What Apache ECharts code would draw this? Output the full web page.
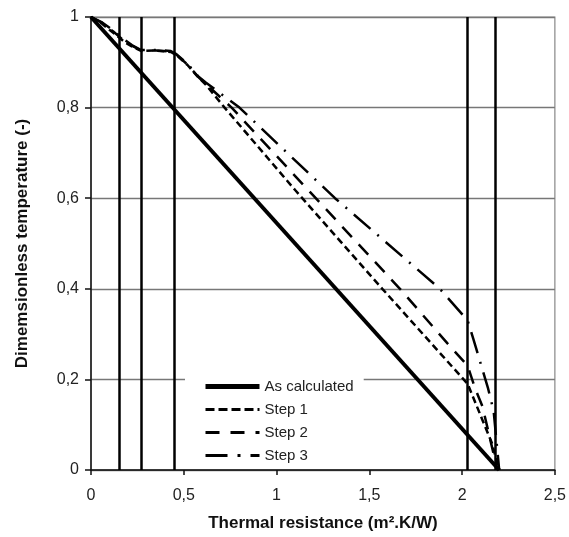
<!DOCTYPE html>
<html><head><meta charset="utf-8">
<script src="https://cdn.jsdelivr.net/npm/echarts@6/dist/echarts.min.js"></script>
<style>html,body{margin:0;padding:0;background:#fff}#c{width:569px;height:537px}</style>
</head><body><div id="c"></div>
<script>
const seriesNames = ['As calculated', 'Step 1', 'Step 2', 'Step 3'];
const asCalculated = [[0, 1], [2.2, 0]];
const step1 = [[0,1],[0.06,0.985],[0.12,0.965],[0.18,0.945],[0.22,0.935],[0.27,0.925],[0.35,0.926],[0.43,0.923],[0.46,0.916],[0.52,0.894],[0.58,0.866],[0.62,0.85],[0.72,0.8],[1.1,0.618],[1.57,0.4],[2.03,0.19],[2.06,0.16],[2.11,0.11],[2.16,0.06],[2.2,0]];
const step2 = [[0,1],[0.06,0.987],[0.12,0.968],[0.18,0.947],[0.22,0.937],[0.27,0.926],[0.35,0.926],[0.43,0.924],[0.46,0.917],[0.52,0.895],[0.58,0.867],[0.62,0.852],[0.758,0.8],[1.2,0.605],[1.665,0.4],[1.92,0.28],[2.03,0.23],[2.07,0.18],[2.11,0.14],[2.15,0.07],[2.19,0]];
const step3 = [[0,1],[0.06,0.988],[0.12,0.97],[0.18,0.95],[0.22,0.938],[0.27,0.927],[0.35,0.927],[0.43,0.925],[0.46,0.918],[0.52,0.897],[0.58,0.868],[0.62,0.855],[0.80,0.8],[1.315,0.6],[1.88,0.4],[2.03,0.33],[2.06,0.29],[2.1,0.235],[2.14,0.18],[2.17,0.13],[2.2,0]];
const layerBoundaries = [0.15, 0.27, 0.45, 2.03, 2.18];
const xTicks = [0, 0.5, 1, 1.5, 2, 2.5];
const yTicks = [0, 0.2, 0.4, 0.6, 0.8, 1];

const font = "'Liberation Sans', Arial, sans-serif";
const fmt = v => String(+v.toFixed(2)).replace('.', ',');
const lineStyles = [
  { color: '#000', width: 4, type: 'solid' },
  { color: '#000', width: 2.5, type: [7, 4] },
  { color: '#000', width: 2.5, type: [14, 10] },
  { color: '#000', width: 2.5, type: [22, 9, 2, 9] }
];
const legendLineStyles = [
  { color: '#000', width: 5, type: 'solid' },
  { color: '#000', width: 3, type: [9, 4] },
  { color: '#000', width: 3, type: [14, 11] },
  { color: '#000', width: 3, type: [22, 10, 3, 10] }
];
const chart = echarts.init(document.getElementById('c'));
chart.setOption({
  animation: false,
  backgroundColor: '#fff',
  color: ['#000', '#000', '#000', '#000'],
  grid: { left: 91, right: 14, top: 17, bottom: 67, show: true, borderColor: '#888', borderWidth: 1.2, backgroundColor: 'transparent' },
  xAxis: {
    type: 'value', min: xTicks[0], max: xTicks[xTicks.length - 1], interval: 0.5,
    axisLine: { lineStyle: { color: '#111', width: 1.5 } },
    axisTick: { show: true, length: 5, lineStyle: { color: '#111', width: 1.5 } },
    axisLabel: { formatter: fmt, fontFamily: font, fontSize: 16, color: '#222', margin: 18 },
    splitLine: { show: false },
    name: 'Thermal resistance (m².K/W)', nameLocation: 'middle', nameGap: 45,
    nameTextStyle: { fontFamily: font, fontSize: 17, fontWeight: 'bold', color: '#111' }
  },
  yAxis: {
    type: 'value', min: yTicks[0], max: yTicks[yTicks.length - 1], interval: 0.2,
    axisLine: { show: true, lineStyle: { color: '#111', width: 1.5 } },
    axisTick: { show: true, length: 6, lineStyle: { color: '#111', width: 1.5 } },
    axisLabel: { formatter: fmt, fontFamily: font, fontSize: 16, color: '#222', margin: 12 },
    splitLine: { show: true, lineStyle: { color: '#777', width: 1.3 } },
    name: 'Dimemsionless temperature (-)', nameLocation: 'middle', nameGap: 60,
    nameTextStyle: { fontFamily: font, fontSize: 17, fontWeight: 'bold', color: '#111' }
  },
  legend: {
    data: seriesNames.map((n, i) => ({ name: n, itemStyle: { opacity: 0 }, lineStyle: legendLineStyles[i] })),
    orient: 'vertical', left: 185, top: 374,
    backgroundColor: '#fff', padding: [5, 10, 5, 18], itemGap: 8,
    itemWidth: 54, itemHeight: 14,
    itemStyle: { opacity: 0 },
    textStyle: { fontFamily: font, fontSize: 15, color: '#222' }
  },
  series: [
    { name: seriesNames[0], type: 'line', data: asCalculated, symbol: 'none', z: 5,
      lineStyle: lineStyles[0],
      markLine: { silent: true, symbol: 'none', label: { show: false },
        lineStyle: { color: '#000', width: 2.5, type: 'solid' },
        data: layerBoundaries.map(x => ({ xAxis: x })) } },
    { name: seriesNames[1], type: 'line', data: step1, symbol: 'none', z: 4, lineStyle: lineStyles[1] },
    { name: seriesNames[2], type: 'line', data: step2, symbol: 'none', z: 4, lineStyle: lineStyles[2] },
    { name: seriesNames[3], type: 'line', data: step3, symbol: 'none', z: 4, lineStyle: lineStyles[3] }
  ]
});
</script></body></html>
